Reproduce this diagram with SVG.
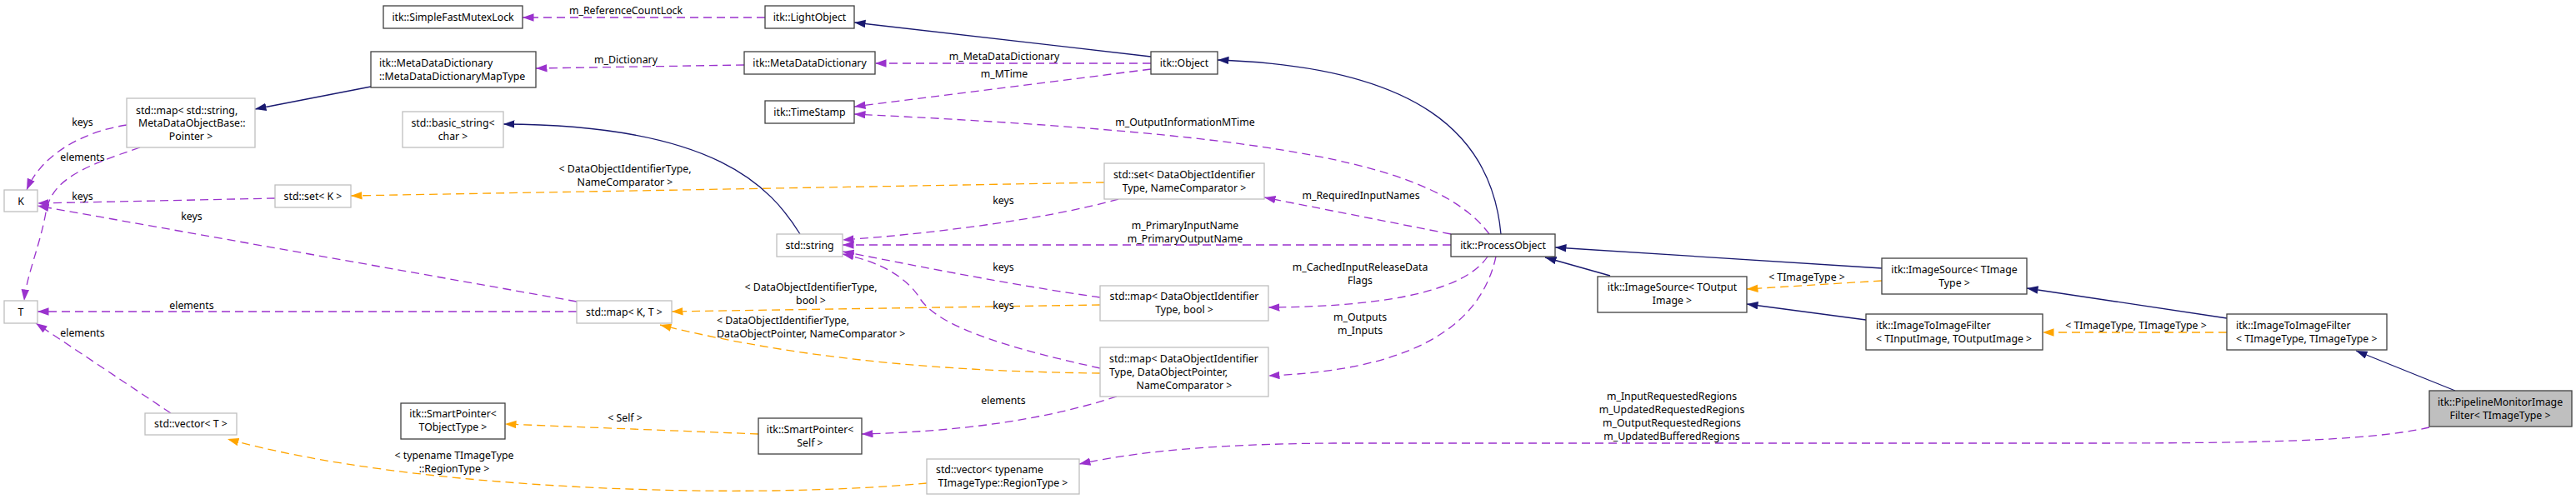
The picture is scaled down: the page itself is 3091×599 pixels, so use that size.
<svg xmlns="http://www.w3.org/2000/svg" width="3091" height="599" viewBox="0 0 3091 599">
<defs>
<style>
rect.d{fill:#fff;stroke:#404040;stroke-width:1.3}
rect.u{fill:#fff;stroke:#bfbfbf;stroke-width:1.3}
rect.h{fill:#bfbfbf;stroke:#404040;stroke-width:1.3}
text{font-family:"Noto Sans","Liberation Sans",sans-serif;font-size:12.3px;fill:#000}
.c{text-anchor:middle}
path.inh{fill:none;stroke:#191970;stroke-width:1.3;marker-end:url(#aN)}
path.tpl{fill:none;stroke:#ffa500;stroke-width:1.3;stroke-dasharray:10,6;marker-end:url(#aO)}
path.use{fill:none;stroke:#9a32cd;stroke-width:1.3;stroke-dasharray:10,6;marker-end:url(#aP)}
</style>
<marker id="aN" markerUnits="userSpaceOnUse" markerWidth="14" markerHeight="10" refX="13.5" refY="4.75" orient="auto"><path d="M0,0 L13.5,4.75 L0,9.5 z" fill="#191970"/></marker>
<marker id="aO" markerUnits="userSpaceOnUse" markerWidth="14" markerHeight="10" refX="13.5" refY="4.75" orient="auto"><path d="M0,0 L13.5,4.75 L0,9.5 z" fill="#ffa500"/></marker>
<marker id="aP" markerUnits="userSpaceOnUse" markerWidth="14" markerHeight="10" refX="13.5" refY="4.75" orient="auto"><path d="M0,0 L13.5,4.75 L0,9.5 z" fill="#9a32cd"/></marker>
</defs>
<rect x="0" y="0" width="3091" height="599" fill="#fff"/>
<g id="connectors">
<path class="inh" d="M1381,68 L1025,27"/>
<path class="inh" d="M1801,281 C1790,160 1700,80 1461,72"/>
<path class="inh" d="M960,281 C925,225 860,150 604,149"/>
<path class="inh" d="M1932,331 L1854,309"/>
<path class="inh" d="M2258,322 L1866,297"/>
<path class="inh" d="M2239,384 L2096,365"/>
<path class="inh" d="M2672,382 L2432,346"/>
<path class="inh" d="M2946,469 L2827,421"/>
<path class="inh" d="M445,104 L306,131"/>
<path class="tpl" d="M1325,219 L421,235"/>
<path class="tpl" d="M1320,366 L806,374"/>
<path class="tpl" d="M1320,448 C1150,446 970,434 792,390"/>
<path class="tpl" d="M910,521 L606,509"/>
<path class="tpl" d="M1112,580 C900,600 500,590 273,527"/>
<path class="tpl" d="M2258,337 L2096,347"/>
<path class="tpl" d="M2672,399 L2451,399"/>
<path class="use" d="M918,21 L627,21"/>
<path class="use" d="M893,78 L643,82"/>
<path class="use" d="M1381,76 L1050,76"/>
<path class="use" d="M1381,83 L1025,128"/>
<path class="use" d="M1787,281 C1720,190 1500,160 1025,137"/>
<path class="use" d="M1741,281 L1517,237"/>
<path class="use" d="M1741,294 L1011,294"/>
<path class="use" d="M1342,239 C1250,265 1100,282 1011,288"/>
<path class="use" d="M1320,357 C1200,340 1080,315 1011,302"/>
<path class="use" d="M1320,442 C1220,420 1130,395 1105,360 C1090,335 1060,315 1011,305"/>
<path class="use" d="M152,150 C100,158 50,185 32,228"/>
<path class="use" d="M168,177 C100,200 62,215 55,255 C48,295 32,330 29,361"/>
<path class="use" d="M330,238 L45,244"/>
<path class="use" d="M692,362 L45,247"/>
<path class="use" d="M692,374 L45,374"/>
<path class="use" d="M205,496 L43,388"/>
<path class="use" d="M1785,308 C1760,345 1680,368 1522,369"/>
<path class="use" d="M1795,308 C1775,400 1680,445 1522,451"/>
<path class="use" d="M1340,476 C1250,505 1150,518 1034,521"/>
<path class="use" d="M2915,513 C2840,530 2700,532 2500,532 L1600,532 C1450,533 1360,543 1295,557"/>
<text class="c" x="751" y="17">m_ReferenceCountLock</text>
<text class="c" x="751" y="76">m_Dictionary</text>
<text class="c" x="1205" y="72">m_MetaDataDictionary</text>
<text class="c" x="1205" y="93">m_MTime</text>
<text class="c" x="1422" y="151">m_OutputInformationMTime</text>
<text class="c" x="750" y="207">&lt; DataObjectIdentifierType,</text>
<text class="c" x="750" y="223">NameComparator &gt;</text>
<text class="c" x="1204" y="245">keys</text>
<text class="c" x="1633" y="239">m_RequiredInputNames</text>
<text class="c" x="1422" y="275">m_PrimaryInputName</text>
<text class="c" x="1422" y="291">m_PrimaryOutputName</text>
<text class="c" x="99" y="151">keys</text>
<text class="c" x="99" y="193">elements</text>
<text class="c" x="99" y="240">keys</text>
<text class="c" x="230" y="264">keys</text>
<text class="c" x="1204" y="325">keys</text>
<text class="c" x="1204" y="371">keys</text>
<text class="c" x="1632" y="325">m_CachedInputReleaseData</text>
<text class="c" x="1632" y="341">Flags</text>
<text class="c" x="973" y="349">&lt; DataObjectIdentifierType,</text>
<text class="c" x="973" y="365">bool &gt;</text>
<text class="c" x="230" y="371">elements</text>
<text x="860" y="389">&lt; DataObjectIdentifierType,</text>
<text x="860" y="405">DataObjectPointer, NameComparator &gt;</text>
<text class="c" x="1632" y="385">m_Outputs</text>
<text class="c" x="1632" y="401">m_Inputs</text>
<text class="c" x="99" y="404">elements</text>
<text class="c" x="2168" y="337">&lt; TImageType &gt;</text>
<text class="c" x="2563" y="395">&lt; TImageType, TImageType &gt;</text>
<text class="c" x="2006" y="480">m_InputRequestedRegions</text>
<text class="c" x="2006" y="496">m_UpdatedRequestedRegions</text>
<text class="c" x="2006" y="512">m_OutputRequestedRegions</text>
<text class="c" x="2006" y="528">m_UpdatedBufferedRegions</text>
<text class="c" x="1204" y="485">elements</text>
<text class="c" x="750" y="506">&lt; Self &gt;</text>
<text class="c" x="545" y="551">&lt; typename TImageType</text>
<text class="c" x="545" y="567">::RegionType &gt;</text>
</g>
<g id="n_SimpleFastMutexLock"><rect class="d" x="460" y="7" width="167" height="27"/><text class="c" x="543.5" y="25">itk::SimpleFastMutexLock</text></g>
<g id="n_LightObject"><rect class="d" x="918" y="7" width="107" height="27"/><text class="c" x="971.5" y="25">itk::LightObject</text></g>
<g id="n_MapType"><rect class="d" x="445" y="62" width="198" height="43"/><text x="455" y="80">itk::MetaDataDictionary</text><text x="455" y="96">::MetaDataDictionaryMapType</text></g>
<g id="n_MetaDataDictionary"><rect class="d" x="893" y="62" width="157" height="27"/><text class="c" x="971.5" y="80">itk::MetaDataDictionary</text></g>
<g id="n_Object"><rect class="d" x="1381" y="62" width="80" height="27"/><text class="c" x="1421" y="80">itk::Object</text></g>
<g id="n_TimeStamp"><rect class="d" x="918" y="121" width="107" height="27"/><text class="c" x="971.5" y="139">itk::TimeStamp</text></g>
<g id="n_basic_string"><rect class="u" x="483" y="134" width="121" height="43"/><text class="c" x="543.5" y="152">std::basic_string&lt;</text><text class="c" x="543.5" y="168">char &gt;</text></g>
<g id="n_map_string"><rect class="u" x="152" y="118" width="154" height="59"/><text x="163" y="136.5">std::map&lt; std::string,</text><text x="166" y="151.5">MetaDataObjectBase::</text><text class="c" x="229" y="167.5">Pointer &gt;</text></g>
<g id="n_K"><rect class="u" x="5" y="228" width="40" height="26"/><text class="c" x="25" y="245.5">K</text></g>
<g id="n_set_K"><rect class="u" x="330" y="222" width="91" height="27"/><text class="c" x="375.5" y="240">std::set&lt; K &gt;</text></g>
<g id="n_set_DOI"><rect class="u" x="1325" y="196" width="192" height="43"/><text class="c" x="1421" y="213.5">std::set&lt; DataObjectIdentifier</text><text class="c" x="1421" y="229.5">Type, NameComparator &gt;</text></g>
<g id="n_string"><rect class="u" x="932" y="281" width="79" height="27"/><text class="c" x="971.5" y="299">std::string</text></g>
<g id="n_ProcessObject"><rect class="d" x="1741" y="281" width="125" height="27"/><text class="c" x="1803.5" y="299">itk::ProcessObject</text></g>
<g id="n_T"><rect class="u" x="5" y="361" width="40" height="27"/><text class="c" x="25" y="379">T</text></g>
<g id="n_map_KT"><rect class="u" x="692" y="361" width="114" height="27"/><text class="c" x="749" y="379">std::map&lt; K, T &gt;</text></g>
<g id="n_map_DOI_bool"><rect class="u" x="1320" y="343" width="202" height="42"/><text class="c" x="1421" y="360">std::map&lt; DataObjectIdentifier</text><text class="c" x="1421" y="376">Type, bool &gt;</text></g>
<g id="n_map_DOI_DOP"><rect class="u" x="1320" y="417" width="202" height="59"/><text x="1331" y="435">std::map&lt; DataObjectIdentifier</text><text x="1331" y="451">Type, DataObjectPointer,</text><text class="c" x="1421" y="467">NameComparator &gt;</text></g>
<g id="n_ImageSource_TOutputImage"><rect class="d" x="1917" y="332" width="179" height="43"/><text class="c" x="2006.5" y="349">itk::ImageSource&lt; TOutput</text><text class="c" x="2006.5" y="365">Image &gt;</text></g>
<g id="n_ImageSource_TImageType"><rect class="d" x="2258" y="310" width="174" height="43"/><text class="c" x="2345" y="328">itk::ImageSource&lt; TImage</text><text class="c" x="2345" y="344">Type &gt;</text></g>
<g id="n_I2I_In_Out"><rect class="d" x="2239" y="377" width="212" height="43"/><text x="2251" y="395">itk::ImageToImageFilter</text><text x="2251" y="411">&lt; TInputImage, TOutputImage &gt;</text></g>
<g id="n_I2I_Img_Img"><rect class="d" x="2672" y="377" width="192" height="43"/><text x="2683" y="395">itk::ImageToImageFilter</text><text x="2683" y="411">&lt; TImageType, TImageType &gt;</text></g>
<g id="n_PipelineMonitorImageFilter"><rect class="h" x="2915" y="469" width="171" height="43"/><text class="c" x="3000" y="487">itk::PipelineMonitorImage</text><text class="c" x="3000" y="503">Filter&lt; TImageType &gt;</text></g>
<g id="n_SmartPointer_TObjectType"><rect class="d" x="481" y="484" width="125" height="43"/><text class="c" x="543.5" y="501">itk::SmartPointer&lt;</text><text class="c" x="543.5" y="517">TObjectType &gt;</text></g>
<g id="n_SmartPointer_Self"><rect class="d" x="910" y="502" width="124" height="43"/><text class="c" x="972" y="520">itk::SmartPointer&lt;</text><text class="c" x="972" y="536">Self &gt;</text></g>
<g id="n_vector_T"><rect class="u" x="174" y="496" width="110" height="26"/><text class="c" x="229" y="513">std::vector&lt; T &gt;</text></g>
<g id="n_vector_Region"><rect class="u" x="1112" y="551" width="183" height="42"/><text x="1123" y="568">std::vector&lt; typename</text><text class="c" x="1203.5" y="584">TImageType::RegionType &gt;</text></g>
</svg>
